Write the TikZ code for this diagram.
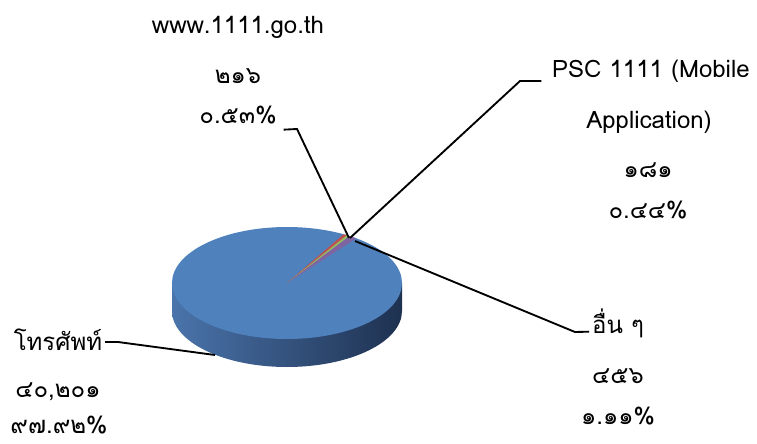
\documentclass[tikz,border=0pt]{standalone}
\usepackage{fontspec}
\setmainfont[Script=Thai]{Loma}
\definecolor{pieblue}{HTML}{4F81BD}
\definecolor{piered}{HTML}{C0504D}
\definecolor{piegreen}{HTML}{9BBB59}
\definecolor{pieviolet}{HTML}{8064A2}
\definecolor{sideleft}{HTML}{4A74AB}
\definecolor{sidemid}{HTML}{2F4C76}
\definecolor{sideright}{HTML}{1E3150}
\tikzset{
  lbl/.style={font=\fontsize{18}{21}\selectfont, anchor=base, inner sep=0pt, text depth=0pt},
  leader/.style={draw=black, line width=1.4pt},
}
\begin{document}
\begin{tikzpicture}[x=0.75pt,y=0.75pt]
    \useasboundingbox (0,0) rectangle (757,-443);
    \def\cx{287} % pie centre
    \def\cy{-283}
    \def\rx{115} % radii of the top face
    \def\ry{56}
    \def\dep{28} % thickness of the disc

    % side of the disc
    \shade [left color=sideleft, middle color=sidemid, right color=sideright]
        (\cx-\rx,\cy) -- (\cx-\rx,\cy-\dep)
        arc [start angle=180, end angle=360, x radius=\rx, y radius=\ry]
        -- (\cx+\rx,\cy) -- cycle;
    % top face
    \fill [pieblue] (\cx,\cy) ellipse [x radius=\rx, y radius=\ry];
    % the three thin slices
    \foreach \a/\b/\col in {60.5/58.6/piered, 58.6/57/piegreen, 57/53/pieviolet}
    {
    \fill [\col] (\cx,\cy) -- ({\cx+\rx*cos(\a)},{\cy+\ry*sin(\a)})
        arc [start angle=\a, end angle=\b, x radius=\rx, y radius=\ry] -- cycle;
    }

    % labels
    \node [lbl] (www-name) at (238,-33) {www.1111.go.th};
    \node [lbl] (www-count) at (238,-83) {๒๑๖};
    \node [lbl] (www-pct) at (238,-123) {๐.๕๓\%};

    \node [lbl] (psc-name) at (651,-77) {PSC 1111 (Mobile};
    \node [lbl] (psc-name2) at (649,-128) {Application)};
    \node [lbl] (psc-count) at (648,-177) {๑๘๑};
    \node [lbl] (psc-pct) at (648,-218) {๐.๔๔\%};

    \node [lbl] (other-name) at (618,-333) {อื่น ๆ};
    \node [lbl] (other-count) at (618,-383) {๔๕๖};
    \node [lbl] (other-pct) at (618,-424) {๑.๑๑\%};

    \node [lbl] (phone-name) at (58,-350) {โทรศัพท์};
    \node [lbl] (phone-count) at (58,-397) {๔๐,๒๐๑};
    \node [lbl] (phone-pct) at (59,-433) {๙๗.๙๒\%};

    % leader lines
    \coordinate (www-tip) at (349,-238);
    \coordinate (www-knee) at (297,-129);
    \coordinate (psc-tip) at (350,-238);
    \coordinate (psc-knee) at (520,-81);
    \coordinate (other-tip) at (355,-241);
    \coordinate (other-knee) at (575,-332);
    \coordinate (phone-tip) at (215,-355);
    \coordinate (phone-knee) at (118,-342);

    \draw [leader] ([xshift=5pt,yshift=-5pt]www-pct.base east) -- (www-knee) -- (www-tip);
    \draw [leader] (psc-tip) -- (psc-knee) -- ([xshift=-8pt,yshift=-3pt]psc-name.base west);
    \draw [leader] (other-tip) -- (other-knee) -- ([xshift=-2pt,yshift=1pt]other-name.base west);
    \draw [leader] ([xshift=2pt,yshift=6pt]phone-name.base east) -- (phone-knee) -- (phone-tip);
\end{tikzpicture}
\end{document}
